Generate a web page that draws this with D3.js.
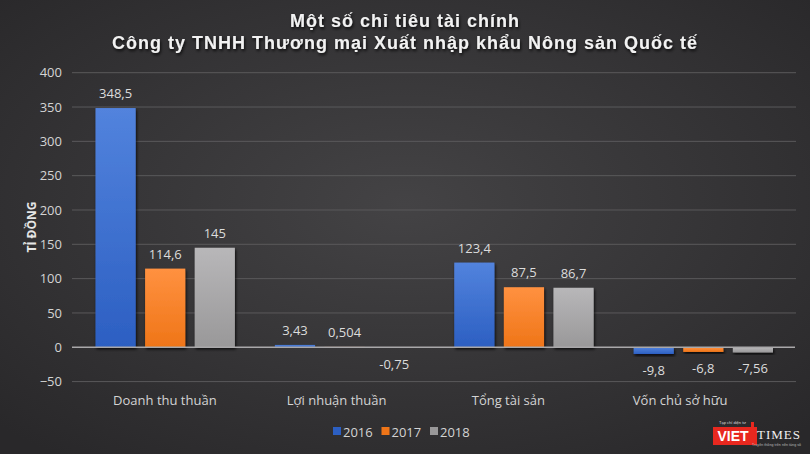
<!DOCTYPE html>
<html>
<head>
<meta charset="utf-8">
<script src="https://cdn.jsdelivr.net/npm/d3@7"></script>
<style>
  body { margin: 0; background: #2e2d2f; }
  svg { display: block; }
</style>
</head>
<body>
<svg></svg>
<script>
// Data
var categories = ["Doanh thu thuần", "Lợi nhuận thuần", "Tổng tài sản", "Vốn chủ sở hữu"];
var years = ["2016", "2017", "2018"];
var values2016 = [348.5, 3.43, 123.4, -9.8];
var values2017 = [114.6, 0.504, 87.5, -6.8];
var values2018 = [145, -0.75, 86.7, -7.56];
var labels2016 = ["348,5", "3,43", "123,4", "-9,8"];
var labels2017 = ["114,6", "0,504", "87,5", "-6,8"];
var labels2018 = ["145", "-0,75", "86,7", "-7,56"];
var yTicks = [-50, 0, 50, 100, 150, 200, 250, 300, 350, 400];

var series = [
  {year: years[0], values: values2016, labels: labels2016},
  {year: years[1], values: values2017, labels: labels2017},
  {year: years[2], values: values2018, labels: labels2018}
];

var width = 810, height = 454;

var svg = d3.select("svg")
    .attr("width", width)
    .attr("height", height);

// Background gradient
var defs = svg.append("defs");
var bg = defs.append("radialGradient")
    .attr("id", "bg")
    .attr("cx", "50%").attr("cy", "45%").attr("r", "70%");
bg.append("stop").attr("offset", "0%").attr("stop-color", "#444345");
bg.append("stop").attr("offset", "100%").attr("stop-color", "#29282a");

var barColors = {
  "2016": ["#5283dd", "#2c5fc2"],
  "2017": ["#ff9140", "#ef7518"],
  "2018": ["#b8b7b9", "#999899"]
};
years.forEach(y => {
  var g = defs.append("linearGradient")
      .attr("id", "g" + y)
      .attr("x1", 0).attr("y1", 0).attr("x2", 0).attr("y2", 1);
  g.append("stop").attr("offset", "0%").attr("stop-color", barColors[y][0]);
  g.append("stop").attr("offset", "100%").attr("stop-color", barColors[y][1]);
});

var shadow = defs.append("filter").attr("id", "shadow")
    .attr("x", "-10%").attr("y", "-10%").attr("width", "120%").attr("height", "140%");
shadow.append("feDropShadow")
    .attr("dx", 1).attr("dy", 2).attr("stdDeviation", 1.5)
    .attr("flood-color", "#000").attr("flood-opacity", 0.8);

svg.append("rect")
    .attr("width", width).attr("height", height)
    .attr("fill", "url(#bg)");

// Scales
var x0 = d3.scaleBand()
    .domain(categories)
    .range([75.5, 793]);

// category labels sit a bit left of their bar groups in the reference
var xLabel = d3.scaleBand()
    .domain(categories)
    .range([79, 766]);

var x1 = d3.scaleBand()
    .domain(years)
    .range([20, x0.bandwidth() - 20])
    .paddingInner(0.19);

var y = d3.scaleLinear()
    .domain([-50, 400])
    .range([381.6, 72.7]);

// Gridlines
svg.append("g")
    .selectAll("line")
    .data(yTicks.filter(d => d !== 0))
    .join("line")
    .attr("x1", 72).attr("x2", 796)
    .attr("y1", d => y(d)).attr("y2", d => y(d))
    .attr("stroke", "#5a595b")
    .attr("stroke-width", 1);

// Y axis tick labels
var yAxis = svg.append("g")
    .attr("transform", "translate(66,0)")
    .call(d3.axisLeft(y).tickValues(yTicks).tickSize(0).tickPadding(4));
yAxis.select(".domain").remove();
yAxis.selectAll("text")
    .attr("fill", "#d4d4d4")
    .style("font-family", "'Open Sans', sans-serif")
    .style("font-size", "13px");

// Y axis title
svg.append("text")
    .attr("transform", "translate(36,227) rotate(-90)")
    .attr("text-anchor", "middle")
    .attr("fill", "#e6e6e6")
    .style("font-family", "'Open Sans', sans-serif")
    .style("font-weight", "bold")
    .style("font-size", "12px")
    .text("TỈ ĐỒNG");

// Bars
var groups = svg.append("g")
    .selectAll("g")
    .data(series)
    .join("g");

groups.selectAll("rect")
    .data(s => s.values.map((v, i) => ({year: s.year, cat: categories[i], v: v, label: s.labels[i]})))
    .join("rect")
    .attr("x", d => x0(d.cat) + x1(d.year))
    .attr("y", d => y(Math.max(0, d.v)))
    .attr("width", x1.bandwidth())
    .attr("height", d => Math.abs(y(d.v) - y(0)))
    .attr("fill", d => "url(#g" + d.year + ")")
    .attr("filter", "url(#shadow)");

// Zero line
svg.append("line")
    .attr("x1", 72).attr("x2", 795)
    .attr("y1", y(0)).attr("y2", y(0))
    .attr("stroke", "#a9a8aa")
    .attr("stroke-width", 1.5);

// Value labels
groups.selectAll("text.value")
    .data(s => s.values.map((v, i) => ({year: s.year, cat: categories[i], v: v, label: s.labels[i]})))
    .join("text")
    .attr("class", "value")
    .attr("x", d => x0(d.cat) + x1(d.year) + x1.bandwidth() / 2)
    .attr("y", d => d.v >= 0 ? y(d.v) - 10 : y(d.v) + 21)
    .attr("text-anchor", "middle")
    .attr("fill", "#dcdcdc")
    .style("font-family", "'Open Sans', sans-serif")
    .style("font-size", "13px")
    .text(d => d.label);

// Category labels
svg.append("g")
    .selectAll("text")
    .data(categories)
    .join("text")
    .attr("x", d => xLabel(d) + xLabel.bandwidth() / 2)
    .attr("y", 405)
    .attr("text-anchor", "middle")
    .attr("fill", "#d4d4d4")
    .style("font-family", "'Open Sans', sans-serif")
    .style("font-size", "13px")
    .text(d => d);

// Title
var title = svg.append("g")
    .attr("text-anchor", "middle")
    .attr("fill", "#f2f2f2")
    .style("font-family", "'Liberation Sans', Arial, sans-serif")
    .style("font-weight", "bold")
    .style("font-size", "18px")
    .style("letter-spacing", "1px")
    .attr("filter", "url(#shadow)");
title.append("text").attr("x", 405).attr("y", 27).text("Một số chỉ tiêu tài chính");
title.append("text").attr("x", 405).attr("y", 49).text("Công ty TNHH Thương mại Xuất nhập khẩu Nông sản Quốc tế");

// Legend
var legend = svg.append("g")
    .selectAll("g")
    .data(years)
    .join("g")
    .attr("transform", (d, i) => `translate(${333 + i * 48.5},432)`);
legend.append("rect")
    .attr("x", 0).attr("y", -5)
    .attr("width", 8).attr("height", 8)
    .attr("fill", d => barColors[d][1]);
legend.append("text")
    .attr("x", 10).attr("y", 4.5)
    .attr("fill", "#d4d4d4")
    .style("font-family", "'Open Sans', sans-serif")
    .style("font-size", "13px")
    .text(d => d);

// VietTimes logo
var logo = svg.append("g").attr("transform", "translate(713,427)");
logo.append("rect").attr("x", 0).attr("y", 0).attr("width", 44).attr("height", 18).attr("fill", "#e8281f");
logo.append("rect").attr("x", 38).attr("y", -5).attr("width", 3).attr("height", 5).attr("fill", "#e8281f");
logo.append("text").attr("x", 20).attr("y", 14).attr("text-anchor", "middle")
    .attr("fill", "#ffffff")
    .style("font-family", "'Liberation Sans', sans-serif")
    .style("font-weight", "bold").style("font-size", "14px")
    .text("VIET");
logo.append("text").attr("x", 44).attr("y", 12).attr("textLength", 43)
    .attr("fill", "#f0f0f0")
    .style("font-family", "'Liberation Serif', serif")
    .style("font-size", "13px")
    .text("TIMES");
logo.append("text").attr("x", 6).attr("y", -3)
    .attr("fill", "#dddddd")
    .style("font-family", "'Liberation Sans', sans-serif")
    .style("font-size", "4px")
    .text("Tạp chí điện tử");
logo.append("text").attr("x", 39).attr("y", 19).attr("textLength", 49)
    .attr("fill", "#bbbbbb")
    .style("font-family", "'Liberation Sans', sans-serif")
    .style("font-size", "3.5px")
    .text("Truyền thông trên nền tảng số");
</script>
</body>
</html>
